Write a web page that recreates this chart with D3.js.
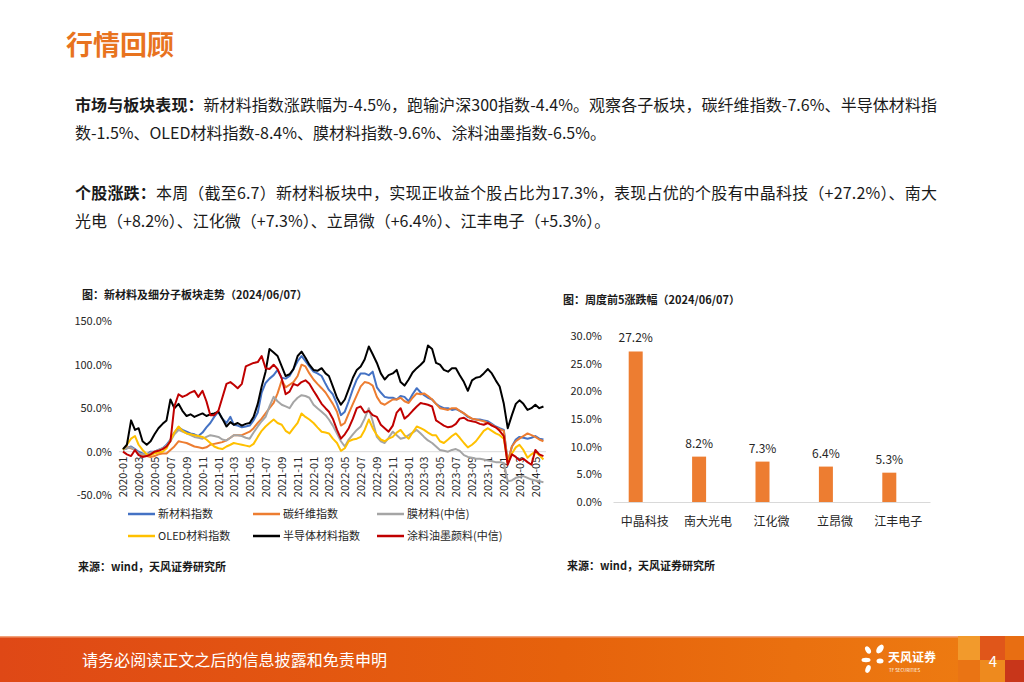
<!DOCTYPE html>
<html>
<head>
<meta charset="utf-8">
<script src="https://cdn.jsdelivr.net/npm/d3@7"></script>
<style>
  body { margin: 0; background: #fff; }
  svg { display: block; }
  text { font-family: "Noto Sans CJK SC", "Noto Sans", sans-serif; }
</style>
</head>
<body>
<svg id="page" width="1024" height="682"></svg>
<script>
// ---- data: left chart (cumulative change, %) ----
const dates = [
  "2020-01-01","2020-01-16","2020-02-01","2020-02-16","2020-03-01","2020-03-16","2020-04-01","2020-04-16",
  "2020-05-01","2020-05-16","2020-06-01","2020-06-16","2020-07-01","2020-07-16","2020-08-01","2020-08-16",
  "2020-09-01","2020-09-16","2020-10-01","2020-10-16","2020-11-01","2020-11-16","2020-12-01","2020-12-16",
  "2021-01-01","2021-01-16","2021-02-01","2021-02-16","2021-03-01","2021-03-16","2021-04-01","2021-04-16",
  "2021-05-01","2021-05-16","2021-06-01","2021-06-16","2021-07-01","2021-07-16","2021-08-01","2021-08-16",
  "2021-09-01","2021-09-16","2021-10-01","2021-10-16","2021-11-01","2021-11-16","2021-12-01","2021-12-16",
  "2022-01-01","2022-01-16","2022-02-01","2022-02-16","2022-03-01","2022-03-16","2022-04-01","2022-04-16",
  "2022-05-01","2022-05-16","2022-06-01","2022-06-16","2022-07-01","2022-07-16","2022-08-01","2022-08-16",
  "2022-09-01","2022-09-16","2022-10-01","2022-10-16","2022-11-01","2022-11-16","2022-12-01","2022-12-16",
  "2023-01-01","2023-01-16","2023-02-01","2023-02-16","2023-03-01","2023-03-16","2023-04-01","2023-04-16",
  "2023-05-01","2023-05-16","2023-06-01","2023-06-16","2023-07-01","2023-07-16","2023-08-01","2023-08-16",
  "2023-09-01","2023-09-16","2023-10-01","2023-10-16","2023-11-01","2023-11-16","2023-12-01","2023-12-16",
  "2024-01-01","2024-01-16","2024-02-01","2024-02-16","2024-03-01","2024-03-16","2024-04-01","2024-04-16",
  "2024-05-01","2024-05-16","2024-06-01"
];

const newMaterial = [
  2,4,6,3,0,-2,-3,0,0,2,4,8,14,22,28,25,23,21,20,18,22,28,33,40,
  46,38,33,40,31,30,28,29,30,36,45,68,79,84,88,94,85,84,87,95,104,110,104,98,
  92,90,87,78,71,66,55,42,46,58,72,83,90,90,88,92,74,68,63,62,62,60,64,63,
  58,66,73,68,65,62,60,55,52,50,50,48,49,47,44,40,38,37,37,36,35,32,29,27,
  25,-12,6,14,17,16,15,16,18,15,14
];
const carbonFiber = [
  3,5,4,2,-2,-4,-5,-6,-5,-3,-2,-2,2,6,12,11,10,8,6,5,4,5,8,9,
  10,11,13,16,19,19,19,21,23,27,33,38,44,50,56,67,82,74,77,80,87,100,98,90,
  83,78,73,68,62,55,46,30,33,44,55,65,75,80,79,76,63,56,54,57,60,60,62,58,
  56,62,67,66,67,64,60,55,50,49,48,50,50,47,44,41,38,37,36,35,33,31,28,26,
  24,-12,6,12,15,18,21,19,17,14,12
];
const filmMaterial = [
  2,4,5,2,-2,-3,-3,-1,0,2,4,7,12,20,25,23,21,19,17,16,15,17,19,18,
  17,14,13,16,19,19,18,16,15,22,29,35,40,52,63,58,54,52,50,57,62,65,64,62,
  54,50,46,42,37,30,21,12,6,14,20,25,29,38,50,35,17,12,10,16,23,19,15,16,
  19,22,25,21,17,13,10,6,2,1,0,2,3,1,-4,-6,-7,-8,-8,-9,-10,-11,-12,-12,
  -13,-34,-33,-30,-29,-28,-30,-32,-33,-34,-35
];
const oledMaterial = [
  2,8,15,18,8,2,-3,-4,-2,-1,0,4,13,22,29,24,21,20,19,18,17,14,10,6,
  4,3,6,8,10,9,8,7,6,9,17,24,29,33,37,33,31,24,21,27,33,44,40,37,
  33,28,23,22,21,15,10,1,4,12,14,15,17,25,37,27,19,14,12,15,17,22,25,19,
  15,22,29,27,25,22,19,19,12,10,14,18,21,16,10,5,8,12,18,24,27,24,21,19,
  15,-13,-2,5,8,2,-7,-3,0,-4,-9
];
const semiMaterial = [
  3,8,36,25,27,12,8,12,20,27,32,36,60,50,55,47,41,43,40,42,44,41,43,44,
  46,38,29,34,31,33,30,32,33,40,55,75,92,118,114,110,98,87,89,95,110,115,108,100,
  94,93,96,90,87,75,62,54,60,72,85,94,98,106,121,112,102,90,83,88,90,94,80,76,
  83,91,96,100,104,122,118,102,100,94,92,96,96,88,80,70,82,85,86,90,95,90,82,75,
  55,27,42,55,59,55,48,50,54,50,52
];
const coatingInk = [
  0,-3,-5,2,-4,-6,-5,-3,0,1,3,6,12,52,66,63,65,68,70,63,70,58,42,42,
  47,62,78,80,77,73,78,98,100,102,103,110,96,95,100,95,84,66,69,78,76,80,82,78,
  70,63,55,50,46,38,25,15,20,27,38,50,52,45,47,42,40,31,27,23,30,45,50,38,
  42,47,52,56,55,54,52,36,33,30,28,29,32,38,39,36,35,34,32,31,33,30,28,24,
  18,-15,-3,-6,-10,-8,-12,-15,2,-3,-5
];
const seriesNames = ["新材料指数", "碳纤维指数", "膜材料(中信)", "OLED材料指数", "半导体材料指数", "涂料油墨颜料(中信)"];
const seriesValues = [newMaterial, carbonFiber, filmMaterial, oledMaterial, semiMaterial, coatingInk];
const leftTicks = [-50, 0, 50, 100, 150];

// ---- data: right chart (weekly top 5 gainers, %) ----
const stocks = ["中晶科技", "南大光电", "江化微", "立昂微", "江丰电子"];
const stockGains = [27.2, 8.2, 7.3, 6.4, 5.3];
const rightTicks = [0, 5, 10, 15, 20, 25, 30];

// ---- styles ----
const seriesColors = ["#4472C4", "#ED7D31", "#A5A5A5", "#FFC000", "#000000", "#C00000"];
const orange = "#E8731E";
const textColor = "#1a1a1a";

const svg = d3.select("#page");
svg.append("rect").attr("width", 1024).attr("height", 682).attr("fill", "#fff");

// ---- header & body text ----
svg.append("text").attr("x", 66).attr("y", 55)
  .attr("font-size", 27).attr("font-weight", "bold").attr("fill", orange)
  .text("行情回顾");

function para(y, bold, rest, fit) {
  const t = svg.append("text").attr("x", 75).attr("y", y)
    .attr("font-size", 16).attr("fill", textColor);
  if (bold) t.append("tspan").attr("font-weight", "bold").text(bold);
  t.append("tspan").text(rest);
  if (fit) t.attr("textLength", fit).attr("lengthAdjust", "spacing");
}
para(111, "市场与板块表现：", "新材料指数涨跌幅为-4.5%，跑输沪深300指数-4.4%。观察各子板块，碳纤维指数-7.6%、半导体材料指", 862);
para(139, null, "数-1.5%、OLED材料指数-8.4%、膜材料指数-9.6%、涂料油墨指数-6.5%。");
para(199, "个股涨跌：", "本周（截至6.7）新材料板块中，实现正收益个股占比为17.3%，表现占优的个股有中晶科技（+27.2%）、南大", 862);
para(227, null, "光电（+8.2%）、江化微（+7.3%）、立昂微（+6.4%）、江丰电子（+5.3%）。");

// ---- left chart: index trends ----
const parse = d3.timeParse("%Y-%m-%d");
const dateObjs = dates.map(parse);

const x = d3.scaleTime()
  .domain([parse("2020-01-01"), parse("2024-06-07")])
  .range([123, 545]);
const y = d3.scaleLinear().domain([-50, 150]).range([495.2, 321.2]);

svg.append("text").attr("x", 82).attr("y", 299)
  .attr("font-size", 11).attr("font-weight", "bold").attr("fill", textColor)
  .text("图：新材料及细分子板块走势（2024/06/07）");

// y labels
svg.append("g").selectAll("text").data(leftTicks).join("text")
  .attr("x", 112).attr("y", d => y(d) + 4)
  .attr("text-anchor", "end").attr("font-size", 11).attr("fill", "#262626")
  .text(d => d.toFixed(1) + "%");

// x axis at zero
const xAxis = svg.append("g")
  .attr("transform", `translate(0,${y(0)})`)
  .call(d3.axisBottom(x).ticks(d3.timeMonth.every(2)).tickSize(0).tickFormat(d3.timeFormat("%Y-%m")));
xAxis.select(".domain").attr("stroke", "#D9D9D9").attr("d", `M119,0H546`);
xAxis.selectAll("text")
  .attr("font-size", 11).attr("fill", "#262626")
  .attr("text-anchor", "end")
  .attr("transform", "rotate(-90)")
  .attr("x", -5).attr("y", 0).attr("dy", "0.35em")
  .attr("font-family", "\"Noto Sans CJK SC\", \"Noto Sans\", sans-serif");

const line = d3.line()
  .x((d, i) => x(dateObjs[i]))
  .y(d => y(d));

svg.append("g").selectAll("path").data(seriesValues).join("path")
  .attr("d", d => line(d))
  .attr("fill", "none")
  .attr("stroke", (d, i) => seriesColors[i])
  .attr("stroke-width", 2)
  .attr("stroke-linejoin", "round");

// legend
const legendCols = [128, 253, 377];
const legendRows = [514, 536];
const legend = svg.append("g").selectAll("g").data(seriesNames).join("g")
  .attr("transform", (d, i) => `translate(${legendCols[i % 3]},${legendRows[Math.floor(i / 3)]})`);
legend.append("line").attr("x1", 0).attr("x2", 27).attr("y1", 0).attr("y2", 0)
  .attr("stroke", (d, i) => seriesColors[i]).attr("stroke-width", 2.5);
legend.append("text").attr("x", 30).attr("y", 4)
  .attr("font-size", 11).attr("fill", "#262626").text(d => d);

svg.append("text").attr("x", 78).attr("y", 571)
  .attr("font-size", 11).attr("font-weight", "bold").attr("fill", textColor)
  .text("来源：wind，天风证券研究所");

// ---- right chart: top 5 ----
const xb = d3.scaleBand().domain(stocks).range([613, 930]);
const yb = d3.scaleLinear().domain([0, 30]).range([502, 336]);
const barWidth = 14;
const barShift = -9;

svg.append("text").attr("x", 563).attr("y", 304)
  .attr("font-size", 11).attr("font-weight", "bold").attr("fill", textColor)
  .text("图：周度前5涨跌幅（2024/06/07）");

svg.append("g").selectAll("text").data(rightTicks).join("text")
  .attr("x", 602).attr("y", d => yb(d) + 4)
  .attr("text-anchor", "end").attr("font-size", 11).attr("fill", "#262626")
  .text(d => d.toFixed(1) + "%");

svg.append("g").selectAll("rect").data(stockGains).join("rect")
  .attr("x", (d, i) => xb(stocks[i]) + xb.bandwidth() / 2 + barShift - barWidth / 2)
  .attr("y", d => yb(d))
  .attr("width", barWidth)
  .attr("height", d => yb(0) - yb(d))
  .attr("fill", "#ED7D31");

svg.append("g").selectAll("text").data(stockGains).join("text")
  .attr("x", (d, i) => xb(stocks[i]) + xb.bandwidth() / 2 + barShift)
  .attr("y", d => yb(d) - 9)
  .attr("text-anchor", "middle").attr("font-size", 12).attr("fill", "#262626")
  .text(d => d.toFixed(1) + "%");

const xbAxis = svg.append("g")
  .attr("transform", `translate(0,${yb(0)})`)
  .call(d3.axisBottom(xb).tickSize(0).tickPadding(0));
xbAxis.select(".domain").attr("stroke", "#D9D9D9");
xbAxis.selectAll("text")
  .attr("font-size", 12).attr("fill", "#262626")
  .attr("y", 24).attr("dy", 0)
  .attr("font-family", "\"Noto Sans CJK SC\", \"Noto Sans\", sans-serif");

svg.append("text").attr("x", 567).attr("y", 570)
  .attr("font-size", 11).attr("font-weight", "bold").attr("fill", textColor)
  .text("来源：wind，天风证券研究所");

// ---- footer ----
const defs = svg.append("defs");
const grad = defs.append("linearGradient").attr("id", "footerGrad");
grad.append("stop").attr("offset", "0%").attr("stop-color", "#DF4816");
grad.append("stop").attr("offset", "55%").attr("stop-color", "#E6620C");
grad.append("stop").attr("offset", "100%").attr("stop-color", "#EE7E12");
svg.append("rect").attr("x", 0).attr("y", 636).attr("width", 1024).attr("height", 46)
  .attr("fill", "url(#footerGrad)");
svg.append("rect").attr("x", 0).attr("y", 636).attr("width", 1024).attr("height", 1.5)
  .attr("fill", "#F2A27A");

const blocks = [
  [958, 636, 22, 24, "#F29A2C"], [958, 660, 22, 22, "#EA7414"],
  [980, 636, 25, 24, "#E0561A"], [980, 660, 25, 22, "#EE8A1E"],
  [1005, 636, 19, 24, "#E86E12"], [1005, 660, 19, 22, "#C8361A"]
];
svg.append("g").selectAll("rect").data(blocks).join("rect")
  .attr("x", d => d[0]).attr("y", d => d[1]).attr("width", d => d[2]).attr("height", d => d[3])
  .attr("fill", d => d[4]);

svg.append("text").attr("x", 82).attr("y", 666)
  .attr("font-size", 16).attr("fill", "#fff")
  .attr("textLength", 305).attr("lengthAdjust", "spacingAndGlyphs")
  .text("请务必阅读正文之后的信息披露和免责申明");

// logo
const logo = svg.append("g").attr("fill", "#fff");
logo.append("ellipse").attr("cx", 868).attr("cy", 650).attr("rx", 2.5).attr("ry", 4).attr("transform", "rotate(-30 868 650)");
logo.append("ellipse").attr("cx", 880).attr("cy", 649).attr("rx", 3).attr("ry", 5).attr("transform", "rotate(35 880 649)");
logo.append("ellipse").attr("cx", 866).attr("cy", 660).attr("rx", 4.5).attr("ry", 2.2);
logo.append("ellipse").attr("cx", 880).attr("cy", 661).attr("rx", 3.5).attr("ry", 2.5);
logo.append("ellipse").attr("cx", 868).attr("cy", 669).attr("rx", 2.5).attr("ry", 4).attr("transform", "rotate(20 868 669)");
logo.append("text").attr("x", 888).attr("y", 662).attr("font-size", 12).attr("font-weight", "bold")
  .text("天风证券");
logo.append("text").attr("x", 889).attr("y", 672).attr("font-size", 4.5)
  .text("TF SECURITIES");

svg.append("text").attr("x", 993).attr("y", 667).attr("text-anchor", "middle")
  .attr("font-size", 15).attr("fill", "#fff").text("4");
</script>
</body>
</html>
